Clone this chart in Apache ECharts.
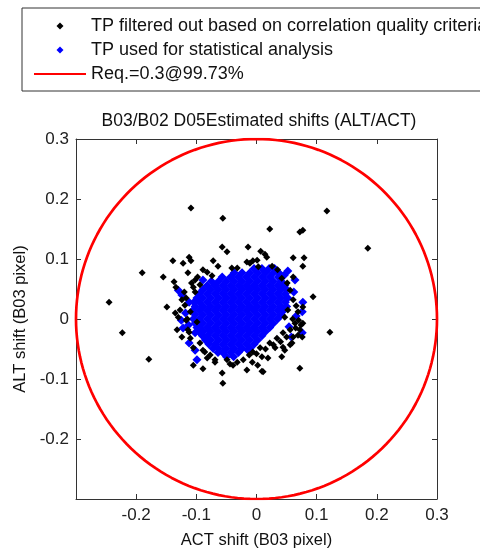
<!DOCTYPE html>
<html>
<head>
<meta charset="utf-8">
<script src="https://cdn.jsdelivr.net/npm/echarts@6/dist/echarts.min.js"></script>
<style>
  html, body { margin: 0; padding: 0; background: #fff; }
  #chart { width: 480px; height: 550px; }
</style>
</head>
<body>
<div id="chart"></div>
<script>
  // TP filtered out (black diamonds), [ACT, ALT]
  const filteredPts = [
    [-0.109, 0.185], [-0.056, 0.168], [0.117, 0.180], [0.022, 0.150], [0.072, 0.145], [0.077, 0.148],
    [0.185, 0.118], [-0.057, 0.120], [-0.049, 0.112], [-0.014, 0.120], [0.007, 0.113], [0.014, 0.108], [0.017, 0.103],
    [-0.139, 0.097], [-0.122, 0.093], [-0.112, 0.103], [-0.109, 0.097], [-0.072, 0.097], [-0.064, 0.088],
    [-0.016, 0.095], [-0.006, 0.097], [0.001, 0.098], [0.061, 0.102], [0.079, 0.102], [0.077, 0.088],
    [-0.190, 0.077], [-0.155, 0.070], [-0.114, 0.077], [-0.137, 0.062], [-0.134, 0.053],
    [-0.245, 0.028], [-0.223, -0.023], [-0.179, -0.067], [-0.149, 0.020], [-0.135, 0.010], [-0.130, 0.003],
    [-0.132, -0.018], [-0.124, -0.030], [-0.110, -0.032], [-0.105, -0.048], [-0.105, -0.077], [-0.089, -0.083],
    [-0.057, -0.090], [-0.056, -0.107], [-0.016, -0.085], [0.009, -0.087], [0.002, -0.077], [0.042, -0.063],
    [0.072, -0.082], [0.122, -0.022], [0.094, 0.037], [0.076, -0.030], [0.077, -0.007], [0.072, -0.018],
    [0.061, -0.030], [0.069, 0.012], [0.077, 0.020], [0.061, 0.032], [0.064, -0.007], [0.056, -0.018],
    [0.044, -0.023], [0.034, -0.032], [0.022, -0.040], [0.006, -0.048], [-0.006, -0.055], [0.044, -0.047],
    [0.031, -0.048], [0.009, -0.063], [0.011, -0.088], [-0.082, 0.078], [-0.089, 0.082], [-0.074, 0.072],
    [-0.041, 0.085], [0.026, 0.088], [-0.119, 0.023], [-0.110, 0.012], [-0.099, -0.005], [-0.105, 0.053],
    [-0.094, 0.057], [-0.094, -0.040], [-0.077, -0.060], [-0.049, -0.068], [-0.032, -0.072], [-0.044, -0.075],
    [-0.089, -0.052], [-0.082, -0.065], [0.042, 0.068], [0.061, 0.070], [-0.102, 0.045], [-0.117, 0.035],
    [0.056, -0.043], [-0.022, -0.068], [-0.069, -0.072], [0.047, 0.003], [0.052, 0.015],
    [-0.032, 0.085], [-0.011, 0.093], [0.003, 0.087], [0.035, 0.082],
    [-0.117, -0.002], [-0.114, -0.018], [-0.086, -0.055], [-0.069, -0.068], [-0.039, -0.077], [-0.007, -0.072],
    [0.019, -0.065], [0.047, -0.052], [0.059, -0.040], [0.069, -0.027], [0.074, -0.010], [0.056, 0.048],
    [0.051, 0.060], [-0.102, 0.065], [-0.124, 0.032], [-0.127, 0.015],
    [0.040, -0.038], [0.050, -0.030], [0.028, -0.043], [0.015, -0.050], [0.000, -0.058], [-0.012, -0.060],
    [0.065, -0.015], [0.060, 0.000], [0.066, 0.022], [0.070, -0.002],
    [-0.112, -0.022], [-0.120, 0.045], [-0.108, 0.060], [-0.098, 0.070], [-0.115, 0.000]
  ];

  // TP used, dense core read row by row: [ALT, ACT, ACT, ...]
  const usedCoreRows = [
    [0.084, -0.004, 0.009, 0.021, 0.030],
    [0.077, -0.037, -0.024, -0.011, 0.002, 0.015, 0.028, 0.037],
    [0.070, -0.057, -0.043, -0.030, -0.017, -0.004, 0.009, 0.022, 0.036],
    [0.063, -0.075, -0.063, -0.050, -0.037, -0.024, -0.011, 0.002, 0.015, 0.028, 0.041],
    [0.056, -0.082, -0.069, -0.056, -0.043, -0.030, -0.017, -0.004, 0.009, 0.022, 0.035, 0.047],
    [0.049, -0.089, -0.076, -0.063, -0.050, -0.037, -0.024, -0.011, 0.002, 0.015, 0.028, 0.041, 0.050],
    [0.042, -0.095, -0.082, -0.069, -0.056, -0.043, -0.030, -0.017, -0.004, 0.009, 0.022, 0.035, 0.048],
    [0.035, -0.099, -0.089, -0.076, -0.063, -0.050, -0.037, -0.024, -0.011, 0.002, 0.015, 0.028, 0.041, 0.052],
    [0.028, -0.104, -0.095, -0.082, -0.069, -0.056, -0.043, -0.030, -0.017, -0.004, 0.009, 0.022, 0.035, 0.048],
    [0.021, -0.102, -0.089, -0.076, -0.063, -0.050, -0.037, -0.024, -0.011, 0.002, 0.015, 0.028, 0.041, 0.050],
    [0.014, -0.106, -0.095, -0.082, -0.069, -0.056, -0.043, -0.030, -0.017, -0.004, 0.009, 0.022, 0.035, 0.045],
    [0.007, -0.102, -0.089, -0.076, -0.063, -0.050, -0.037, -0.024, -0.011, 0.002, 0.015, 0.028, 0.041],
    [0.000, -0.105, -0.095, -0.082, -0.069, -0.056, -0.043, -0.030, -0.017, -0.004, 0.009, 0.022, 0.035],
    [-0.007, -0.102, -0.089, -0.076, -0.063, -0.050, -0.037, -0.024, -0.011, 0.002, 0.015, 0.028],
    [-0.014, -0.099, -0.095, -0.082, -0.069, -0.056, -0.043, -0.030, -0.017, -0.004, 0.009, 0.022],
    [-0.021, -0.096, -0.089, -0.076, -0.063, -0.050, -0.037, -0.024, -0.011, 0.002, 0.015],
    [-0.028, -0.090, -0.082, -0.069, -0.056, -0.043, -0.030, -0.017, -0.004, 0.009],
    [-0.035, -0.085, -0.076, -0.063, -0.050, -0.037, -0.024, -0.011, 0.002],
    [-0.042, -0.079, -0.069, -0.056, -0.043, -0.030, -0.017, -0.004],
    [-0.049, -0.072, -0.063, -0.050, -0.037, -0.024, -0.011],
    [-0.056, -0.064, -0.056, -0.043, -0.030],
    [-0.063, -0.050, -0.038]
  ];

  // TP used, scattered around the core
  const usedOuterPts = [
    [-0.130, 0.048], [-0.124, 0.040], [-0.122, -0.015], [-0.102, -0.023], [-0.102, -0.052], [-0.099, -0.068],
    [0.052, 0.080], [0.064, 0.065], [0.077, 0.028], [0.076, 0.012], [0.076, -0.023], [-0.125, -0.002],
    [-0.089, 0.065], [0.054, -0.013], [-0.112, 0.028], [0.046, 0.073], [-0.014, -0.052], [-0.113, -0.010],
    [-0.118, 0.010], [-0.112, -0.040], [0.062, 0.045], [0.066, 0.005], [0.058, -0.030]
  ];

  const reqRadius = 0.3;
  const xTicks = [-0.3, -0.2, -0.1, 0, 0.1, 0.2, 0.3];
  const yTicks = [-0.3, -0.2, -0.1, 0, 0.1, 0.2, 0.3];

  const names = [
    'TP filtered out based on correlation quality criteria',
    'TP used for statistical analysis',
    'Req.=0.3@99.73%'
  ];

  const usedPts = [];
  usedCoreRows.forEach(function (row) {
    for (let i = 1; i < row.length; i++) usedPts.push([row[i], row[0]]);
  });
  usedOuterPts.forEach(function (p) { usedPts.push(p); });

  // requirement circle
  const circlePts = [];
  for (let a = 0; a <= 360; a += 2) {
    const t = a * Math.PI / 180;
    circlePts.push([reqRadius * Math.cos(t), reqRadius * Math.sin(t)]);
  }

  const font = "'Liberation Sans', Arial, sans-serif";
  const axisColor = '#333';
  const diamondIcon = 'path://M0,-1L1,0L0,1L-1,0Z';

  function hideFirst(ticks) {
    return function (v) {
      return Math.abs(v - ticks[0]) < 1e-9 ? '' : String(Math.round(v * 10) / 10);
    };
  }

  function mainAxis(pos, ticks, extra) {
    return Object.assign({
      type: 'value',
      position: pos,
      min: ticks[0],
      max: ticks[ticks.length - 1],
      interval: 0.1,
      axisLine: { onZero: false, lineStyle: { color: axisColor, width: 1 } },
      axisTick: { inside: true, length: 5, lineStyle: { color: axisColor } },
      splitLine: { show: false }
    }, extra);
  }

  const chart = echarts.init(document.getElementById('chart'));

  chart.setOption({
    animation: false,
    backgroundColor: '#fff',
    title: {
      text: 'B03/B02 D05Estimated shifts (ALT/ACT)',
      left: 254,
      top: 107,
      textAlign: 'center',
      textStyle: { fontFamily: font, fontSize: 17.5, fontWeight: 'normal', color: '#111' }
    },
    legend: {
      orient: 'vertical',
      left: 22,
      top: 8,
      padding: [9, 12, 8, 11],
      itemGap: 6,
      itemWidth: 52,
      itemHeight: 7,
      symbolKeepAspect: true,
      borderColor: axisColor,
      borderWidth: 1,
      backgroundColor: '#fff',
      textStyle: { fontFamily: font, fontSize: 18, color: '#111' },
      data: [
        { name: names[0], icon: diamondIcon },
        { name: names[1], icon: diamondIcon },
        { name: names[2], itemStyle: { opacity: 0 } }
      ]
    },
    grid: { left: 76, right: 43, top: 139, bottom: 51, containLabel: false, outerBoundsMode: 'none' },
    xAxis: [
      mainAxis('bottom', xTicks, {
        name: 'ACT shift (B03 pixel)',
        nameLocation: 'middle',
        nameGap: 33,
        nameTextStyle: { fontFamily: font, fontSize: 16.5, color: '#111' },
        axisLabel: { margin: 8, fontFamily: font, fontSize: 17, color: '#222', formatter: hideFirst(xTicks) }
      }),
      mainAxis('top', xTicks, { axisLabel: { show: false } })
    ],
    yAxis: [
      mainAxis('left', yTicks, {
        name: 'ALT shift (B03 pixel)',
        nameLocation: 'middle',
        nameGap: 37,
        nameTextStyle: { fontFamily: font, fontSize: 16.5, color: '#111' },
        axisLabel: { margin: 7, fontFamily: font, fontSize: 17, color: '#222', formatter: hideFirst(yTicks) }
      }),
      mainAxis('right', yTicks, { axisLabel: { show: false } })
    ],
    series: [
      {
        name: names[1],
        type: 'scatter',
        symbol: 'diamond',
        symbolSize: 9,
        itemStyle: { color: '#0000ff', opacity: 1 },
        data: usedPts
      },
      {
        name: names[0],
        type: 'scatter',
        symbol: 'diamond',
        symbolSize: 7,
        itemStyle: { color: '#000', opacity: 1 },
        data: filteredPts
      },
      {
        name: names[2],
        type: 'line',
        symbol: 'none',
        showSymbol: false,
        lineStyle: { color: '#ff0000', width: 2.7 },
        itemStyle: { color: '#ff0000' },
        data: circlePts
      }
    ]
  });
</script>
</body>
</html>
